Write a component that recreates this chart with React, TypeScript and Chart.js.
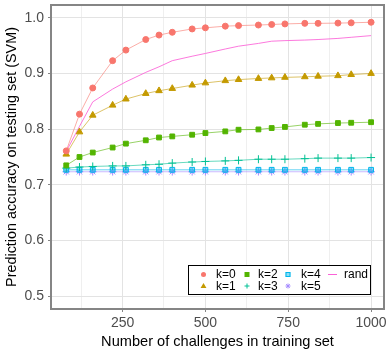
import React, { useEffect, useRef } from 'react';
import { Chart, registerables } from 'chart.js';

Chart.register(...registerables);

// ---- data ----
const trainSizes = [80, 120, 160, 220, 260, 320, 360, 400, 460, 500, 560, 600, 660, 700, 740, 800, 840, 900, 940, 1000];
const k0 = [0.761, 0.827, 0.874, 0.923, 0.942, 0.961, 0.969, 0.974, 0.980, 0.982, 0.985, 0.986, 0.987, 0.988, 0.989, 0.990, 0.990, 0.9905, 0.991, 0.992];
const k1 = [0.755, 0.795, 0.825, 0.843, 0.854, 0.864, 0.869, 0.873, 0.879, 0.883, 0.887, 0.889, 0.891, 0.892, 0.893, 0.894, 0.895, 0.896, 0.898, 0.900];
const k2 = [0.735, 0.750, 0.758, 0.767, 0.774, 0.780, 0.785, 0.787, 0.790, 0.793, 0.796, 0.799, 0.7995, 0.802, 0.804, 0.808, 0.8095, 0.811, 0.8115, 0.8125];
const k3 = [0.730, 0.732, 0.733, 0.734, 0.734, 0.736, 0.737, 0.739, 0.741, 0.742, 0.743, 0.744, 0.746, 0.746, 0.746, 0.747, 0.748, 0.748, 0.748, 0.749];
const k4 = [0.727, 0.727, 0.727, 0.727, 0.727, 0.727, 0.727, 0.727, 0.727, 0.727, 0.727, 0.727, 0.727, 0.727, 0.727, 0.727, 0.727, 0.727, 0.727, 0.727];
const k5 = [0.7235, 0.7235, 0.7235, 0.7235, 0.7235, 0.7235, 0.7235, 0.7235, 0.7235, 0.7235, 0.7235, 0.7235, 0.7235, 0.7235, 0.7235, 0.7235, 0.7235, 0.7235, 0.7235, 0.7235];
const rand = [0.760, 0.805, 0.849, 0.872, 0.885, 0.902, 0.912, 0.923, 0.931, 0.936, 0.944, 0.949, 0.954, 0.958, 0.959, 0.960, 0.961, 0.963, 0.965, 0.968];

const seriesNames = ['k=0', 'k=1', 'k=2', 'k=3', 'k=4', 'k=5', 'rand'];
const xTicks = [125, 250, 375, 500, 625, 750, 875, 1000];
const yTicks = [0.5, 0.6, 0.7, 0.8, 0.9, 1.0];

const COLORS = ['#F8766D', '#C49A00', '#53B400', '#00C094', '#00B6EB', '#A58AFF', '#FB61D7'];
const SHAPES = ['circle', 'triangle', 'square', 'plus', 'squareplus', 'star', 'line'];
const FONT = '"Liberation Sans", Arial, sans-serif';

function drawMarker(ctx: CanvasRenderingContext2D, shape: string, x: number, y: number, color: string, s: number) {
  ctx.save();
  ctx.fillStyle = color;
  ctx.strokeStyle = color;
  ctx.lineWidth = 1;
  ctx.beginPath();
  if (shape === 'circle') {
    ctx.arc(x, y, s, 0, Math.PI * 2);
    ctx.fill();
  } else if (shape === 'triangle') {
    const r = s * 1.25;
    ctx.moveTo(x, y - r);
    ctx.lineTo(x + r * 0.95, y + r * 0.6);
    ctx.lineTo(x - r * 0.95, y + r * 0.6);
    ctx.closePath();
    ctx.fill();
  } else if (shape === 'square') {
    ctx.rect(x - s, y - s, 2 * s, 2 * s);
    ctx.fill();
  } else if (shape === 'plus') {
    ctx.moveTo(x - s, y); ctx.lineTo(x + s, y);
    ctx.moveTo(x, y - s); ctx.lineTo(x, y + s);
    ctx.stroke();
  } else if (shape === 'squareplus') {
    ctx.globalAlpha = 0.45;
    ctx.fillRect(x - s, y - s, 2 * s, 2 * s);
    ctx.globalAlpha = 1;
    ctx.strokeRect(x - s + 0.5, y - s + 0.5, 2 * s - 1, 2 * s - 1);
  } else if (shape === 'star') {
    ctx.moveTo(x - s, y); ctx.lineTo(x + s, y);
    ctx.moveTo(x, y - s); ctx.lineTo(x, y + s);
    const d = s * 0.72;
    ctx.moveTo(x - d, y - d); ctx.lineTo(x + d, y + d);
    ctx.moveTo(x - d, y + d); ctx.lineTo(x + d, y - d);
    ctx.stroke();
  } else if (shape === 'line') {
    ctx.moveTo(x - 4.5, y); ctx.lineTo(x + 4.5, y);
    ctx.stroke();
  }
  ctx.restore();
}

const frameAndLegend = {
  id: 'frameAndLegend',
  afterDatasetsDraw(chart: any) {
    const { ctx, chartArea: a } = chart;
    ctx.save();
    ctx.strokeStyle = '#858585';
    ctx.lineWidth = 2;
    ctx.strokeRect(a.left, a.top, a.right - a.left, a.bottom - a.top);

    // legend
    const bx = a.left + 137.5;
    const by = a.top + 260.5;
    const bw = 182;
    const bh = 29;
    ctx.fillStyle = '#FFFFFF';
    ctx.fillRect(bx, by, bw, bh);
    ctx.strokeStyle = '#000000';
    ctx.lineWidth = 1;
    ctx.strokeRect(bx, by, bw, bh);

    const colMarker = [15, 58.5, 99.5, 144];
    const colText = [27.5, 69.5, 112.5, 155.5];
    const rowY = [9, 20.5];
    const layout = [[0, 0, 0], [1, 0, 1], [2, 1, 0], [3, 1, 1], [4, 2, 0], [5, 2, 1], [6, 3, 0]];
    ctx.font = `12px ${FONT}`;
    ctx.textBaseline = 'middle';
    ctx.textAlign = 'left';
    for (const [i, c, r] of layout) {
      const mx = bx + colMarker[c];
      const my = by + rowY[r];
      drawMarker(ctx, SHAPES[i], mx, my, COLORS[i], 2.5);
      ctx.fillStyle = '#000000';
      ctx.fillText(seriesNames[i], bx + colText[c], my + 0.5);
    }
    ctx.restore();
  },
};

function hexA(hex: string, a: number) {
  const v = parseInt(hex.slice(1), 16);
  return `rgba(${(v >> 16) & 255},${(v >> 8) & 255},${v & 255},${a})`;
}

export default function App() {
  const canvasRef = useRef<HTMLCanvasElement | null>(null);

  useEffect(() => {
    document.body.style.margin = '0';
    const canvas = canvasRef.current;
    if (!canvas) return;
    const all = [k0, k1, k2, k3, k4, k5, rand];
    const styleMap: Record<string, any> = {
      circle: { pointStyle: 'circle', pointRadius: 3 },
      triangle: { pointStyle: 'triangle', pointRadius: 3.8 },
      square: { pointStyle: 'rect', pointRadius: 3.4 },
      plus: { pointStyle: 'cross', pointRadius: 4, pointBorderWidth: 1 },
      squareplus: { pointStyle: 'rect', pointRadius: 3.4 },
      star: { pointStyle: 'star', pointRadius: 3.8, pointBorderWidth: 1 },
      line: { pointRadius: 0 },
    };
    const datasets = all.map((vals, i) => {
      const shape = SHAPES[i];
      const st = styleMap[shape];
      return {
        label: seriesNames[i],
        data: trainSizes.map((x, j) => ({ x, y: vals[j] })),
        borderColor: hexA(COLORS[i], i === 6 ? 0.85 : 0.6),
        borderWidth: 1,
        backgroundColor: shape === 'squareplus' ? hexA(COLORS[i], 0.45) : COLORS[i],
        pointBackgroundColor: shape === 'squareplus' ? hexA(COLORS[i], 0.45) : COLORS[i],
        pointBorderColor: COLORS[i],
        pointBorderWidth: 1,
        tension: 0,
        ...st,
      };
    });

    const chart = new Chart(canvas, {
      type: 'line',
      data: { datasets },
      plugins: [frameAndLegend],
      options: {
        animation: false,
        responsive: true,
        maintainAspectRatio: false,
        layout: { padding: { left: 0, top: 3, right: 5, bottom: 0 } },
        plugins: { legend: { display: false }, tooltip: { enabled: false } },
        scales: {
          x: {
            type: 'linear',
            min: 34,
            max: 1039,
            afterBuildTicks: (s: any) => { s.ticks = xTicks.map((v) => ({ value: v })); },
            afterFit: (s: any) => { s.height = 45; s.paddingLeft = 0; s.paddingRight = 0; },
            ticks: {
              autoSkip: false,
              maxRotation: 0,
              color: '#4D4D4D',
              font: { family: FONT, size: 14 },
              padding: 3,
              callback: (v: any) => (Number(v) % 250 === 0 ? String(v) : ''),
            },
            grid: {
              color: (c: any) => (c.tick && c.tick.value % 250 === 0 ? '#E3E3E3' : '#EFEFEF'),
              tickColor: (c: any) => (c.tick && c.tick.value % 250 === 0 ? '#858585' : 'rgba(0,0,0,0)'),
              tickLength: 3,
              lineWidth: 1,
            },
            border: { display: false },
            title: {
              display: true,
              text: 'Number of challenges in training set',
              color: '#000000',
              font: { family: FONT, size: 14.6 },
              padding: { top: 0, bottom: 3 },
            },
          },
          y: {
            type: 'linear',
            min: 0.477,
            max: 1.023,
            afterBuildTicks: (s: any) => { s.ticks = yTicks.map((v) => ({ value: v })); },
            afterFit: (s: any) => { s.width = 51; s.paddingTop = 0; s.paddingBottom = 0; },
            ticks: {
              color: '#4D4D4D',
              font: { family: FONT, size: 14 },
              padding: 4,
              callback: (v: any) => Number(v).toFixed(1),
            },
            grid: {
              color: '#E3E3E3',
              tickColor: '#858585',
              tickLength: 3,
              lineWidth: 1,
            },
            border: { display: false },
            title: {
              display: true,
              text: 'Prediction accuracy on testing set (SVM)',
              color: '#000000',
              font: { family: FONT, size: 14.4 },
              padding: { top: 3, bottom: 0 },
            },
          },
        },
      },
    });
    return () => chart.destroy();
  }, []);

  return (
    <div style={{ position: 'absolute', left: 0, top: 0, width: 389, height: 354, background: '#FFFFFF' }}>
      <canvas ref={canvasRef} />
    </div>
  );
}
